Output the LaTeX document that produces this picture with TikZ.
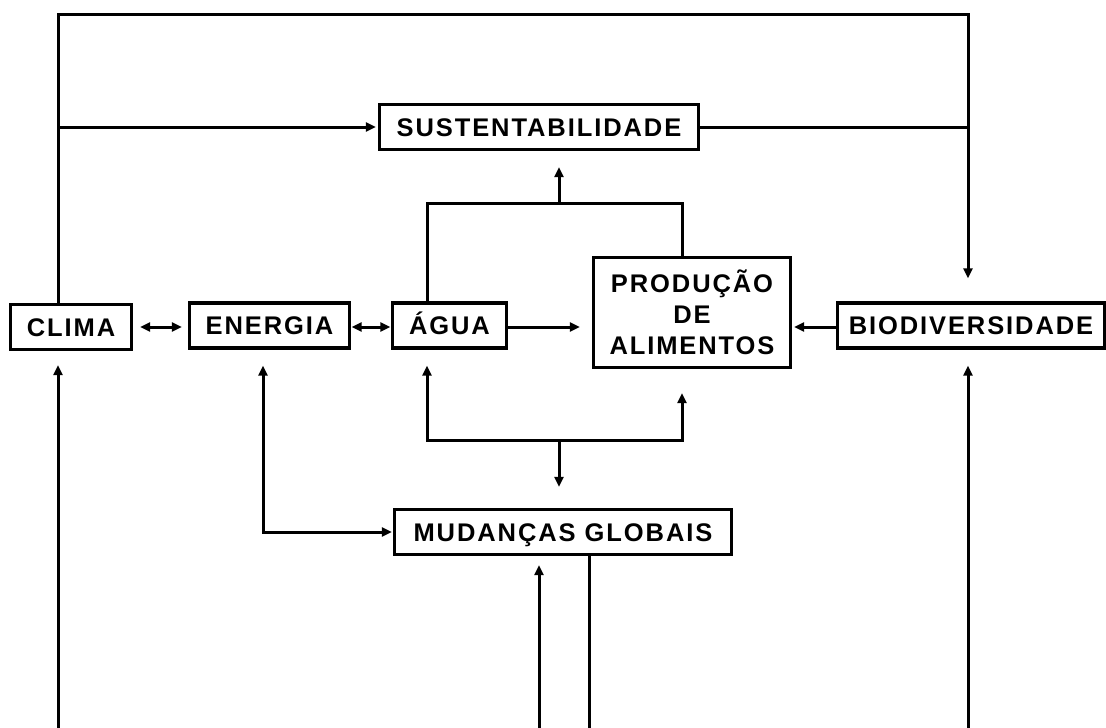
\documentclass[tikz,border=0pt]{standalone}
\usepackage{fontspec}
\newfontfamily\labfont{Liberation Sans}[LetterSpace=7.5]
\usetikzlibrary{arrows.meta}
\begin{document}
\begin{tikzpicture}[x=1pt,y=-1pt,
  box/.style={draw, line width=3.4pt, inner sep=0pt, minimum height=45pt,
    text depth=0pt, text height=18.3pt,
    font=\labfont\bfseries\fontsize{25.5}{31}\selectfont},
  conn/.style={line width=3pt, line join=miter},
  tip/.style={-{Triangle[length=10pt,width=9pt]}},
  tips/.style={{Triangle[length=10pt,width=9pt]}-{Triangle[length=10pt,width=9pt]}}]
\useasboundingbox (0,0) rectangle (1106,728);
\fill[white] (0,0) rectangle (1106,728);
% columns and rows
\coordinate (cA) at (58,0);
\coordinate (cE) at (263,0);
\coordinate (cW) at (427,0);
\coordinate (cS) at (559,0);
\coordinate (cM1) at (539,0);
\coordinate (cM2) at (589,0);
\coordinate (cP) at (682,0);
\coordinate (cB) at (968,0);
\coordinate (rTop) at (0,14);
\coordinate (rUp) at (0,203);
\coordinate (rLow) at (0,440);
\coordinate (rBot) at (0,728);
% nodes
\node[box, minimum width=121pt] (clima) at (71,327) {CLIMA};
\node[box, minimum width=160pt] (energia) at (269.5,325.5) {ENERGIA};
\node[box, minimum width=114pt] (agua) at (449.5,325.5) {ÁGUA};
\node[box, minimum width=197pt, minimum height=110pt, align=center,
  text height=, text depth=] (prod) at (692,312.5) {PRODUÇÃO\\DE\\ALIMENTOS};
\node[box, minimum width=267pt] (bio) at (971,325.5) {BIODIVERSIDADE};
\node[box, minimum width=319pt] (sust) at (539,127) {SUSTENTABILIDADE};
\node[box, minimum width=337pt] (mud) at (563,532) {MUDANÇAS GLOBAIS};
% row connectors
\draw[conn, tips, shorten <=7pt, shorten >=6pt] (clima.east) -- (clima.east -| energia.west);
\draw[conn, tips, shorten <=0.5pt, shorten >=0.5pt] (energia.east |- clima.east) -- (agua.west |- clima.east);
\draw[conn, tip, shorten >=12pt] (agua.east |- clima.east) -- (prod.west |- clima.east);
\draw[conn, tip, shorten >=2pt] (bio.west |- clima.east) -- (prod.east |- clima.east);
% top loop
\draw[conn, tip, shorten >=23pt] (cA |- clima.north) -- (cA |- rTop) -- (cB |- rTop) -- (cB |- bio.north);
\draw[conn, tip, shorten >=2pt] (cA |- sust.west) -- (sust.west);
\draw[conn] (sust.east) -- (cB |- sust.east);
% water / food upper link
\draw[conn] (cW |- agua.north) -- (cW |- rUp) -- (cP |- rUp) -- (cP |- prod.north);
\draw[conn, tip, shorten >=16pt] (cS |- rUp) -- (cS |- sust.south);
% water / food lower link
\draw[conn, tips, shorten <=16pt, shorten >=24pt] (cW |- agua.south) -- (cW |- rLow) -- (cP |- rLow) -- (cP |- prod.south);
\draw[conn, tip, shorten >=21pt] (cS |- rLow) -- (cS |- mud.north);
% energy to global changes
\draw[conn, tips, shorten <=16pt, shorten >=1pt] (cE |- energia.south) -- (cE |- mud.west) -- (mud.west);
% bottom arrows
\draw[conn, tip, shorten >=14pt] (cA |- rBot) -- (cA |- clima.south);
\draw[conn, tip, shorten >=16pt] (cB |- rBot) -- (cB |- bio.south);
\draw[conn, tip, shorten >=9pt] (cM1 |- rBot) -- (cM1 |- mud.south);
\draw[conn] (cM2 |- mud.south) -- (cM2 |- rBot);
\end{tikzpicture}
\end{document}
